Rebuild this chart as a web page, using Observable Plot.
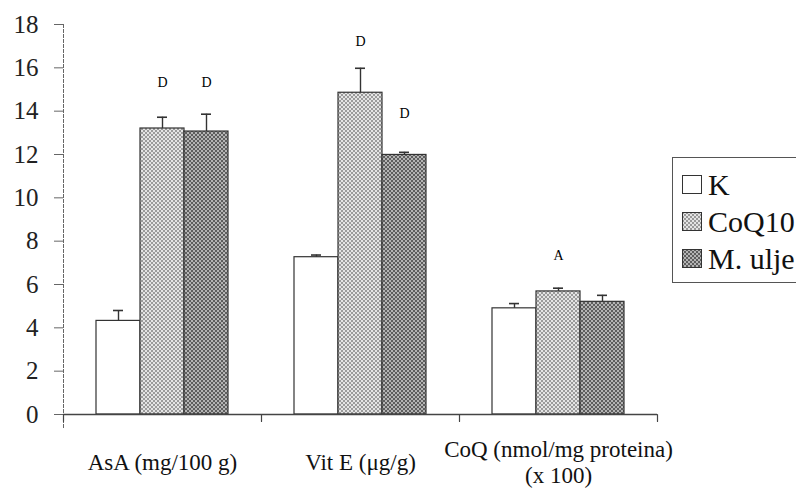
<!DOCTYPE html>
<html>
<head>
<meta charset="utf-8">
<script src="https://cdn.jsdelivr.net/npm/d3@7"></script>
<script src="https://cdn.jsdelivr.net/npm/@observablehq/plot@0.6"></script>
<style>
  html, body { margin: 0; padding: 0; background: #fff; overflow: hidden; width: 796px; height: 498px; }
  #wrap { position: relative; width: 796px; height: 498px; overflow: hidden; }
  #wrap svg text { font-family: "Liberation Serif", serif !important; font-variant: normal !important; }
  #legend { position: absolute; left: 672px; top: 157px; width: 150px; height: 126px;
    border: 1px solid #555; background: #fff; font-family: "Liberation Serif", serif; font-size: 30px; color: #111;
    box-sizing: border-box; padding-top: 8px; }
  .row { display: flex; align-items: center; height: 37px; padding-left: 9px; }
  .sw { width: 20px; height: 19px; margin-right: 6px; flex: none; }
</style>
</head>
<body>
<svg width="0" height="0" style="position:absolute">
  <defs>
    <pattern id="pLight" width="4" height="4" patternUnits="userSpaceOnUse">
      <rect width="4" height="4" fill="#e4e4e4"/>
      <rect width="2" height="2" fill="#9a9a9a"/>
      <rect x="2" y="2" width="2" height="2" fill="#9a9a9a"/>
    </pattern>
    <pattern id="pDark" width="4" height="4" patternUnits="userSpaceOnUse">
      <rect width="4" height="4" fill="#b4b4b4"/>
      <rect width="2" height="2" fill="#5e5e5e"/>
      <rect x="2" y="2" width="2" height="2" fill="#5e5e5e"/>
    </pattern>
  </defs>
</svg>
<div id="wrap"></div>
<script>
const categories = ["AsA (mg/100 g)", "Vit E (\u03bcg/g)", "CoQ (nmol/mg proteina)\n(x 100)"];
const series = ["K", "CoQ10", "M. ulje"];
const kValues = [4.32, 7.26, 4.9];
const kErr = [0.48, 0.1, 0.22];
const coqValues = [13.2, 14.85, 5.68];
const coqErr = [0.52, 1.13, 0.15];
const mValues = [13.06, 11.98, 5.2];
const mErr = [0.8, 0.12, 0.3];
const yTicks = [0, 2, 4, 6, 8, 10, 12, 14, 16, 18];
const annoCats = [0, 0, 1, 1, 2];
const annoSeries = ["CoQ10", "M. ulje", "CoQ10", "M. ulje", "CoQ10"];
const annoText = ["D", "D", "D", "D", "A"];
const annoY = [15.3, 15.3, 17.2, 13.9, 7.35];
const patterns = ["#ffffff", "url(#pLight)", "url(#pDark)"];

const FONT = "Liberation Serif";
const valuesBySeries = [kValues, coqValues, mValues];
const errBySeries = [kErr, coqErr, mErr];
const rows = [];
categories.forEach((c, i) => series.forEach((s, j) => rows.push({
  cat: c, series: s, value: valuesBySeries[j][i], hi: valuesBySeries[j][i] + errBySeries[j][i]
})));
const annos = annoText.map((t, k) => ({cat: categories[annoCats[k]], series: annoSeries[k], text: t, y: annoY[k]}));
const catRows = categories.map(c => ({cat: c}));

const chart = Plot.plot({
  width: 796,
  height: 498,
  marginTop: 24,
  marginBottom: 84,
  marginLeft: 62,
  marginRight: 139,
  style: {fontFamily: FONT, background: "white", color: "#111"},
  fx: {domain: categories, padding: 0, axis: null},
  x: {domain: series, paddingInner: 0, paddingOuter: 0.75, axis: null},
  y: {domain: [0, 18], axis: null},
  color: {domain: series, range: patterns},
  marks: [
    Plot.frame({anchor: "left", facetAnchor: "left", stroke: "#666", strokeDasharray: "3,2", insetBottom: -13}),
    Plot.axisY({ticks: yTicks, tickSize: 9, tickPadding: 16, fontSize: 25, fontFamily: FONT, stroke: "#666", fill: "#222"}),
    Plot.barY(rows, {fx: "cat", x: "series", y: "value", fill: "series", stroke: "#333", strokeWidth: 1.2}),
    Plot.ruleX(rows, {fx: "cat", x: "series", y1: "value", y2: "hi", stroke: "#333", strokeWidth: 1.4}),
    Plot.tickY(rows, {fx: "cat", x: "series", y: "hi", insetLeft: 17, insetRight: 17, stroke: "#333", strokeWidth: 1.6}),
    Plot.ruleY([0], {stroke: "#444", strokeWidth: 1.4}),
    Plot.vector([0], {frameAnchor: "bottom-left", length: 7, rotate: 180, anchor: "start", r: 0, stroke: "#444", strokeWidth: 1.2}),
    Plot.vector([0], {frameAnchor: "bottom-right", facetAnchor: "right", length: 7, rotate: 180, anchor: "start", r: 0, stroke: "#444", strokeWidth: 1.2}),
    Plot.text(annos, {fx: "cat", x: "series", y: "y", text: "text", fontSize: 14, fontFamily: FONT, fill: "#000"}),
    Plot.text(catRows, {fx: "cat", text: "cat", frameAnchor: "bottom", dy: 47, lineAnchor: "middle", lineHeight: 1.15, fontSize: 23, fontFamily: FONT, fill: "#111"})
  ]
});
document.getElementById("wrap").appendChild(chart);

const legend = document.createElement("div");
legend.id = "legend";
series.forEach((s, j) => {
  const row = document.createElement("div");
  row.className = "row";
  const sw = document.createElementNS("http://www.w3.org/2000/svg", "svg");
  sw.setAttribute("class", "sw");
  sw.setAttribute("viewBox", "0 0 20 19");
  const r = document.createElementNS("http://www.w3.org/2000/svg", "rect");
  r.setAttribute("x", 0.5); r.setAttribute("y", 0.5); r.setAttribute("width", 19); r.setAttribute("height", 18);
  r.setAttribute("fill", patterns[j]); r.setAttribute("stroke", "#333");
  sw.appendChild(r);
  const t = document.createElement("span");
  t.textContent = s;
  row.appendChild(sw); row.appendChild(t);
  legend.appendChild(row);
});
document.getElementById("wrap").appendChild(legend);
</script>
</body>
</html>
